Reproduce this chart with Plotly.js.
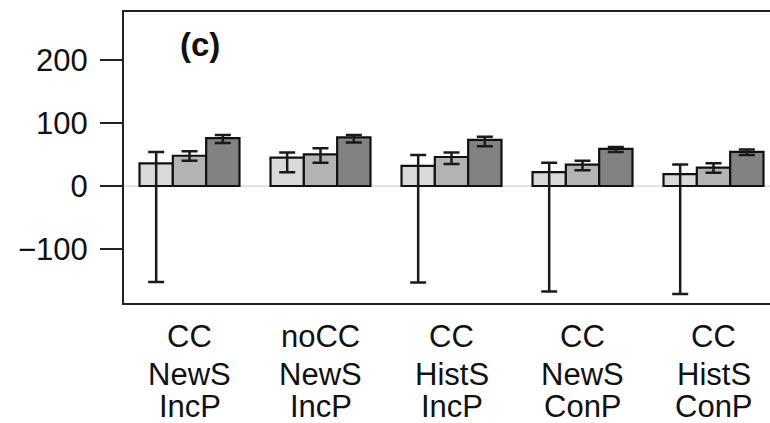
<!DOCTYPE html>
<html>
<head>
<meta charset="utf-8">
<script src="https://cdn.plot.ly/plotly-3.0.1.min.js"></script>
<style>
html, body { margin: 0; padding: 0; overflow: hidden; background: #fff; }
#chart { width: 800px; height: 423px; }
</style>
</head>
<body>
<div id="chart"></div>
<script>
// Scenario categories (x-axis labels, one line per element)
const categories = ["CC<br>NewS<br>IncP", "noCC<br>NewS<br>IncP", "CC<br>HistS<br>IncP", "CC<br>NewS<br>ConP", "CC<br>HistS<br>ConP"];

// Series 1 (light gray)
const s1Values = [36, 45, 32, 22, 19];
const s1Upper  = [54, 53, 49, 37, 34];
const s1Lower  = [-152, 22, -153, -167, -171];

// Series 2 (medium gray)
const s2Values = [48, 50, 46, 34, 29];
const s2Upper  = [55, 60, 53, 40, 36];
const s2Lower  = [40, 37, 35, 25, 21];

// Series 3 (dark gray)
const s3Values = [76, 77, 73, 59, 54];
const s3Upper  = [81, 81, 78, 62, 58];
const s3Lower  = [68, 69, 63, 54, 49];

const yTicks = [-100, 0, 100, 200];

const fills = ["#d9d9d9", "#b3b3b3", "#828282"];
const series = [
  [s1Values, s1Upper, s1Lower],
  [s2Values, s2Upper, s2Lower],
  [s3Values, s3Upper, s3Lower]
];

const traces = series.map((s, i) => ({
  type: "bar",
  x: categories,
  y: s[0],
  marker: { color: fills[i], line: { color: "#111", width: 2.2 } },
  error_y: {
    type: "data",
    symmetric: false,
    array: s[1].map((u, k) => u - s[0][k]),
    arrayminus: s[0].map((v, k) => v - s[2][k]),
    color: "#1a1a1a",
    thickness: 2.5,
    width: 8
  },
  hoverinfo: "none"
}));

// x labels drawn line by line so the line spacing matches the figure
const lineY = [-0.115, -0.245, -0.355];
const labelAnnotations = [];
categories.forEach(cat => {
  cat.split("<br>").forEach((line, j) => {
    labelAnnotations.push({
      xref: "x", yref: "paper",
      x: cat, y: lineY[j],
      xanchor: "center", yanchor: "middle",
      text: line, showarrow: false,
      font: { size: 31, color: "#111" }
    });
  });
});

const layout = {
  width: 800,
  height: 423,
  margin: { l: 124, r: 21, t: 12, b: 120 },
  paper_bgcolor: "#fff",
  plot_bgcolor: "#fff",
  showlegend: false,
  barmode: "group",
  bargap: 0.237,
  bargroupgap: 0,
  font: { family: "Liberation Sans, Arial, sans-serif", color: "#111", size: 30 },
  xaxis: {
    type: "category",
    range: [-0.5, 4.5],
    showline: true,
    mirror: true,
    linecolor: "#222",
    linewidth: 2,
    ticks: "",
    showgrid: false,
    zeroline: false,
    showticklabels: false
  },
  yaxis: {
    range: [-185.4, 275.8],
    tickvals: yTicks,
    ticktext: yTicks.map(v => (v < 0 ? "\u2212" + Math.abs(v) : String(v))),
    showline: true,
    mirror: false,
    linecolor: "#222",
    linewidth: 2,
    ticks: "outside",
    ticklen: 22,
    tickwidth: 2,
    tickcolor: "#222",
    showgrid: false,
    zeroline: true,
    zerolinecolor: "#e3e3e3",
    zerolinewidth: 1.5,
    tickfont: { size: 31, color: "#111" },
    ticklabelstandoff: 6
  },
  annotations: [{
    xref: "paper", yref: "paper",
    x: 0.116, y: 0.887,
    xanchor: "center", yanchor: "middle",
    text: "<b>(c)</b>",
    showarrow: false,
    font: { size: 33, color: "#111" }
  }].concat(labelAnnotations)
};

Plotly.newPlot("chart", traces, layout, { displayModeBar: false, staticPlot: true });
</script>
</body>
</html>
